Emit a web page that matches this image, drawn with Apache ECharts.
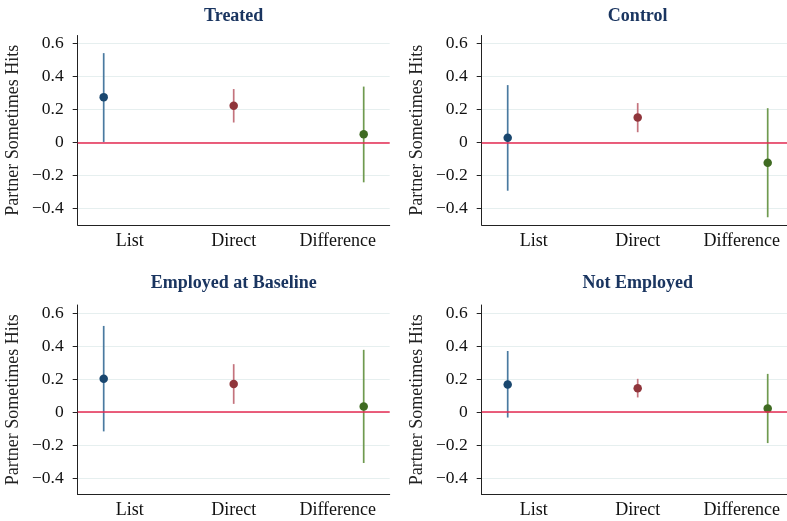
<!DOCTYPE html>
<html>
<head>
<meta charset="utf-8">
<script src="https://cdn.jsdelivr.net/npm/echarts@6/dist/echarts.min.js"></script>
<style>html,body{margin:0;padding:0;background:#fff}#c{width:787px;height:521px}</style>
</head>
<body>
<div id="c"></div>
<script>
const panelTitles = ["Treated", "Control", "Employed at Baseline", "Not Employed"];
const categories = ["List", "Direct", "Difference"];
const categoryPos = [1, 2, 3];
const pointPos = [0.75, 2, 3.25];
const yTicks = [-0.4, -0.2, 0, 0.2, 0.4, 0.6];
const yTickLabels = ["\u22120.4", "\u22120.2", "0", "0.2", "0.4", "0.6"];
const yAxisTitle = "Partner Sometimes Hits";

// estimates per panel: [List, Direct, Difference]
const est = [
  [0.276, 0.223, 0.051],
  [0.030, 0.152, -0.122],
  [0.202, 0.170, 0.034],
  [0.167, 0.145, 0.022]
];
const ciLow = [
  [0.004, 0.122, -0.241],
  [-0.292, 0.063, -0.453],
  [-0.117, 0.050, -0.309],
  [-0.033, 0.089, -0.188]
];
const ciHigh = [
  [0.543, 0.325, 0.340],
  [0.349, 0.240, 0.209],
  [0.523, 0.291, 0.378],
  [0.371, 0.202, 0.232]
];

const pointColors = ["#1a476f", "#90353b", "#3f6b22"];
const ciColors = ["#4a7aa0", "#c4737d", "#6f9a4f"];

const font = "'Liberation Serif', 'Times New Roman', serif";
const gridPos = [
  {left: 77.7, top: 35.5, titleTop: 7},
  {left: 481.7, top: 35.5, titleTop: 7},
  {left: 77.7, top: 305, titleTop: 274},
  {left: 481.7, top: 305, titleTop: 274}
];
const W = 312, H = 189.5;

const grids = [], xAxes = [], yAxes = [], titles = [], series = [];
for (let p = 0; p < 4; p++) {
  grids.push({left: gridPos[p].left, top: gridPos[p].top, width: W, height: H,
    containLabel: false, outerBoundsMode: 'none'});
  titles.push({
    text: panelTitles[p], left: gridPos[p].left + W / 2, top: gridPos[p].titleTop,
    textAlign: 'center', padding: 0,
    textStyle: {fontFamily: font, fontWeight: 'bold', fontSize: 18, color: '#1a3560'}
  });
  xAxes.push({
    gridIndex: p, type: 'value', min: 0.5, max: 3.5,
    axisLine: {show: true, onZero: false, lineStyle: {color: '#222', width: 1}},
    axisTick: {show: false},
    splitLine: {show: false},
    axisLabel: {
      customValues: categoryPos,
      formatter: v => categories[categoryPos.indexOf(Math.round(v))] || '',
      fontFamily: font, fontSize: 18, color: '#111', margin: 7
    }
  });
  yAxes.push({
    gridIndex: p, type: 'value', min: -0.5, max: 0.65,
    name: yAxisTitle, nameLocation: 'middle', nameGap: 55, nameRotate: 90,
    nameTextStyle: {fontFamily: font, fontSize: 18, color: '#222'},
    axisLine: {show: true, onZero: false, lineStyle: {color: '#222', width: 1}},
    axisTick: {show: true, customValues: yTicks, length: 5, lineStyle: {color: '#222'}},
    splitLine: {show: true, lineStyle: {color: '#e6efef', width: 1}},
    axisLabel: {
      customValues: yTicks,
      formatter: v => { const i = yTicks.findIndex(t => Math.abs(t - v) < 1e-6); return i >= 0 ? yTickLabels[i] : ''; },
      fontFamily: font, fontSize: 17.5, color: '#111', margin: 14
    }
  });
  // zero line
  series.push({
    type: 'line', xAxisIndex: p, yAxisIndex: p, data: [], silent: true,
    markLine: {
      symbol: 'none', silent: true, label: {show: false},
      lineStyle: {color: '#e62a52', width: 1.5, type: 'solid'},
      data: [{yAxis: 0}]
    }
  });
  for (let k = 0; k < 3; k++) {
    series.push({
      type: 'custom', xAxisIndex: p, yAxisIndex: p, silent: true,
      data: [[pointPos[k], ciLow[p][k], ciHigh[p][k]]],
      renderItem: (params, api) => {
        const a = api.coord([api.value(0), api.value(1)]);
        const b = api.coord([api.value(0), api.value(2)]);
        return {type: 'line', shape: {x1: a[0], y1: a[1], x2: b[0], y2: b[1]},
          style: {stroke: ciColors[k], lineWidth: 1.7}};
      },
      z: 3
    });
    series.push({
      type: 'scatter', xAxisIndex: p, yAxisIndex: p, silent: true,
      data: [[pointPos[k], est[p][k]]], symbol: 'circle', symbolSize: 8.5,
      itemStyle: {color: pointColors[k], opacity: 1}, z: 4
    });
  }
}

const chart = echarts.init(document.getElementById('c'), null, {renderer: 'canvas'});
chart.setOption({
  animation: false,
  backgroundColor: '#ffffff',
  title: titles,
  grid: grids, xAxis: xAxes, yAxis: yAxes, series: series
});
</script>
</body>
</html>
